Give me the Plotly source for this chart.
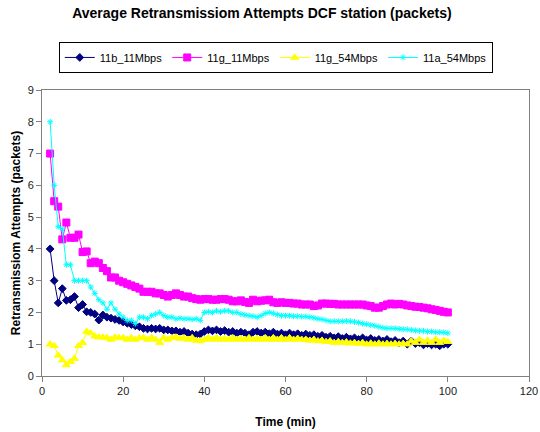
import plotly.graph_objects as go

# Simulation time (minutes)
time_min = list(range(2, 101))

# Average retransmission attempts per DCF station
b11_11 = [4.0, 3.0, 2.3, 2.75, 2.38, 2.4, 2.5, 2.15, 2.25, 2.02,
          2.0, 1.95, 1.76, 1.92, 1.85, 1.82, 1.78, 1.75, 1.7, 1.66,
          1.62, 1.58, 1.55, 1.5, 1.48, 1.5, 1.48, 1.5, 1.45, 1.45,
          1.42, 1.42, 1.38, 1.4, 1.35, 1.32, 1.3, 1.32, 1.4, 1.45,
          1.42, 1.45, 1.4, 1.43, 1.38, 1.4, 1.35, 1.38, 1.35, 1.3,
          1.38, 1.4, 1.35, 1.38, 1.33, 1.38, 1.32, 1.35, 1.3, 1.35,
          1.3, 1.33, 1.28, 1.32, 1.28, 1.3, 1.25, 1.28, 1.22, 1.25,
          1.2, 1.24, 1.18, 1.22, 1.17, 1.2, 1.15, 1.2, 1.13, 1.18,
          1.12, 1.15, 1.1, 1.15, 1.08, 1.12, 1.05, 1.1, 1.0, 1.1,
          1.02, 1.05, 0.98, 1.02, 0.98, 1.0, 0.95, 1.0, 1.0]

g11_11 = [7.0, 5.5, 5.33, 4.3, 4.83, 4.35, 4.35, 4.45, 3.9, 3.92,
          3.55, 3.6, 3.55, 3.4, 3.3, 3.1, 3.1, 3.0, 2.95, 2.9,
          2.85, 2.8, 2.75, 2.65, 2.65, 2.65, 2.6, 2.6, 2.55, 2.5,
          2.55, 2.6, 2.55, 2.5, 2.5, 2.45, 2.42, 2.4, 2.42, 2.42,
          2.4, 2.4, 2.42, 2.42, 2.4, 2.35, 2.35, 2.38, 2.33, 2.3,
          2.4, 2.35, 2.37, 2.38, 2.4, 2.32, 2.3, 2.32, 2.3, 2.3,
          2.28, 2.28, 2.25, 2.25, 2.25, 2.2, 2.22, 2.28, 2.28, 2.27,
          2.27, 2.25, 2.25, 2.25, 2.25, 2.25, 2.25, 2.25, 2.22, 2.2,
          2.15, 2.15, 2.2, 2.25, 2.28, 2.25, 2.27, 2.25, 2.22, 2.2,
          2.18, 2.17, 2.15, 2.13, 2.1, 2.08, 2.05, 2.02, 2.0]

g11_54 = [1.0, 0.95, 0.65, 0.5, 0.35, 0.45, 0.55, 0.95, 1.05, 1.4,
          1.35, 1.25, 1.22, 1.22, 1.2, 1.15, 1.22, 1.2, 1.2, 1.15,
          1.2, 1.15, 1.2, 1.2, 1.15, 1.2, 1.15, 1.05, 1.2, 1.15,
          1.2, 1.22, 1.18, 1.2, 1.15, 1.2, 1.12, 1.1, 1.15, 1.2,
          1.15, 1.2, 1.15, 1.18, 1.15, 1.2, 1.15, 1.18, 1.15, 1.2,
          1.15, 1.18, 1.15, 1.2, 1.15, 1.2, 1.15, 1.2, 1.15, 1.2,
          1.15, 1.18, 1.15, 1.15, 1.12, 1.15, 1.1, 1.12, 1.08, 1.1,
          1.05, 1.08, 1.05, 1.07, 1.03, 1.05, 1.02, 1.05, 1.0, 1.03,
          1.0, 1.03, 1.0, 1.02, 1.0, 1.02, 1.0, 1.02, 1.0, 1.1,
          1.05, 1.15, 1.05, 1.12, 1.05, 1.15, 1.05, 1.12, 1.08]

a11_54 = [8.0, 6.0, 4.7, 4.62, 3.5, 3.5, 3.0, 3.0, 3.0, 3.0,
          2.8, 2.6, 2.4, 2.3, 2.1, 2.3, 2.1, 1.95, 1.85, 1.75,
          1.75, 1.65, 1.85, 1.85, 1.8, 1.9, 1.95, 2.0, 1.9, 1.85,
          1.85, 1.8, 1.82, 1.8, 1.8, 1.78, 1.8, 1.75, 2.0, 2.02,
          2.0, 2.05, 2.02, 2.05, 2.05, 2.0, 2.0, 1.95, 1.92, 1.9,
          1.88, 1.85, 1.9, 1.97, 2.0, 1.97, 1.93, 1.9, 1.9, 1.9,
          1.88, 1.88, 1.87, 1.87, 1.85, 1.83, 1.8, 1.78, 1.75, 1.72,
          1.72, 1.72, 1.72, 1.73, 1.72, 1.7, 1.68, 1.65, 1.63, 1.6,
          1.58, 1.55, 1.52, 1.5, 1.5, 1.5, 1.48, 1.47, 1.47, 1.45,
          1.43, 1.42, 1.42, 1.4, 1.4, 1.38, 1.38, 1.37, 1.35]

series = [
    ("11b_11Mbps", b11_11, "#000080", "diamond", 6),
    ("11g_11Mbps", g11_11, "#FF00FF", "square", 7),
    ("11g_54Mbps", g11_54, "#FFFF00", "triangle-up", 7),
    ("11a_54Mbps", a11_54, "#00FFFF", "asterisk-open", 5),
]

FONT = "Liberation Sans, Arial, sans-serif"

fig = go.Figure()
for name, vals, color, symbol, size in series:
    fig.add_trace(go.Scatter(
        x=time_min, y=vals, name=name, mode="lines+markers",
        line=dict(color=color, width=1),
        marker=dict(symbol=symbol, size=size, color=color,
                    line=dict(color=color, width=1)),
    ))

axis_common = dict(
    showline=True, linecolor="#808080", linewidth=1, mirror=True,
    ticks="outside", ticklen=5, tickcolor="#808080",
    showgrid=False, zeroline=False, automargin=False,
    tickfont=dict(family=FONT, size=11, color="#222222"),
)

fig.update_layout(
    width=540, height=432,
    margin=dict(l=42, r=11, t=90, b=56),
    paper_bgcolor="white", plot_bgcolor="white",
    font=dict(family=FONT, color="#000000"),
    title=dict(
        text="<b>Average Retransmissiom Attempts DCF station (packets)</b>",
        x=0.485, xanchor="center", xref="container",
        y=0.97, yanchor="middle", yref="container",
        font=dict(family=FONT, size=14, color="#000000"),
    ),
    showlegend=True,
    legend=dict(
        orientation="h", x=0.48, xanchor="center",
        y=1.168, yanchor="top",
        bordercolor="#000000", borderwidth=1, bgcolor="white",
        font=dict(family=FONT, size=11, color="#000000"),
        itemwidth=30, tracegroupgap=0,
    ),
    xaxis=dict(range=[0, 120], dtick=20, tick0=0,
               title=dict(text="<b>Time (min)</b>", standoff=21,
                          font=dict(family=FONT, size=12)),
               **axis_common),
    yaxis=dict(range=[0, 9], dtick=1, tick0=0,
               title=dict(text="<b>Retransmissiom Attempts (packets)</b>",
                          standoff=4, font=dict(family=FONT, size=12)),
               **axis_common),
)

fig.write_html("out.html")
